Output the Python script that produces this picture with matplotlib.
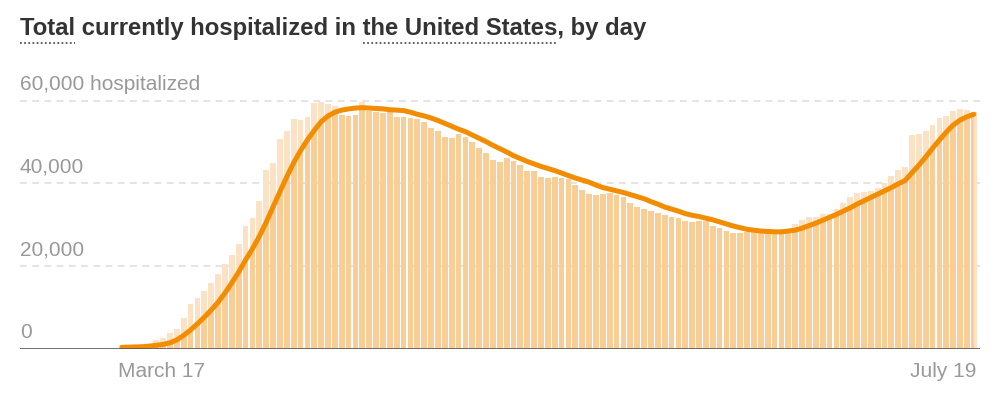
import numpy as np
import matplotlib
matplotlib.use('Agg')
import matplotlib.pyplot as plt
from matplotlib.patches import Polygon
from matplotlib.lines import Line2D

# daily values, in thousands, day 0 = March 17, last day = July 19
hospitalized = [
    0.3, 0.4, 0.6, 0.9, 1.2, 2.2, 2.7, 3.8, 4.9, 7.6,
    10.9, 12.2, 13.9, 15.9, 18.0, 20.5, 22.6, 25.3, 29.8, 31.6,
    35.8, 43.2, 45.0, 50.7, 52.6, 55.5, 55.3, 56.0, 59.4, 59.7,
    59.3, 58.7, 56.5, 56.4, 56.6, 59.6, 57.6, 57.3, 57.1, 57.2,
    56.0, 56.0, 55.8, 55.5, 54.9, 53.4, 52.7, 51.2, 51.0, 51.9,
    51.3, 50.1, 48.5, 47.4, 45.7, 45.1, 46.2, 45.4, 44.4, 43.1,
    43.1, 41.5, 41.4, 41.5, 41.4, 41.1, 39.5, 38.3, 37.4, 37.3,
    37.4, 37.8, 37.2, 36.6, 35.3, 34.4, 33.8, 33.3, 32.8, 32.4,
    32.0, 31.6, 31.0, 30.7, 31.0, 30.8, 29.8, 29.3, 28.5, 27.9,
    27.9, 28.3, 28.7, 28.6, 28.6, 27.8, 28.1, 28.5, 30.2, 31.2,
    32.0, 32.0, 32.6, 32.6, 33.7, 35.3, 36.6, 37.6, 37.9, 38.2,
    38.8, 40.0, 41.9, 43.2, 44.0, 51.7, 51.9, 52.7, 54.1, 55.7,
    56.3, 57.5, 57.9, 57.7, 57.3,
]
# 7-day average line (thousands)
average = [
    0.4, 0.45, 0.5, 0.55, 0.7, 0.9, 1.1, 1.5, 2.2, 3.3,
    4.6, 6.1, 7.7, 9.4, 11.3, 13.5, 16.0, 18.6, 21.5, 24.2,
    27.2, 30.6, 34.3, 38.0, 41.6, 45.0, 47.9, 50.5, 52.8, 54.9,
    56.3, 57.2, 57.7, 58.0, 58.2, 58.3, 58.2, 58.1, 58.0, 57.8,
    57.7, 57.6, 57.2, 56.7, 56.3, 55.8, 55.2, 54.5, 53.8, 53.1,
    52.5, 51.7, 50.9, 50.1, 49.2, 48.4, 47.6, 46.7, 46.0, 45.3,
    44.7, 44.1, 43.6, 43.1, 42.5, 41.9, 41.3, 40.8, 40.3, 39.6,
    39.0, 38.6, 38.2, 37.8, 37.3, 36.8, 36.3, 35.6, 35.0, 34.3,
    33.8, 33.3, 32.7, 32.3, 32.0, 31.6, 31.2, 30.7, 30.2, 29.7,
    29.3, 28.9, 28.7, 28.5, 28.4, 28.3, 28.3, 28.5, 28.7, 29.2,
    29.8, 30.4, 31.1, 31.8, 32.5, 33.3, 34.1, 35.0, 35.8, 36.6,
    37.4, 38.2, 39.0, 39.9, 40.7, 42.6, 44.4, 46.4, 48.5, 50.5,
    52.4, 54.1, 55.3, 56.1, 56.7,
]
y_ticks = [0, 20000, 40000, 60000]
y_labels = ['0', '20,000', '40,000', '60,000 hospitalized']
x_labels = ['March 17', 'July 19']

plt.rcParams['font.family'] = ['Liberation Sans', 'DejaVu Sans']

days = np.arange(len(hospitalized))
vals = np.array(hospitalized) * 1000
avg = np.array(average) * 1000

W, H = 994, 404
fig = plt.figure(figsize=(W / 100, H / 100), dpi=100)
# axes: pixels 20..980 horizontally, baseline at y=349
ax_top_px, ax_bot_px = 94.4, 349
ax = fig.add_axes([20 / W, (H - ax_bot_px) / H, 960 / W, (ax_bot_px - ax_top_px) / H])
ax.set_xlim(-14.83, 124.9)
ax.set_ylim(0, 61500)
ax.axis('off')

light = '#fce2c4'
dark = '#f9cd96'
orange = '#f28c00'

for v in y_ticks[1:]:
    ax.axhline(v, color='#dddddd', lw=1.1, dashes=(4.5, 3.5), zorder=0)

ax.bar(days, vals, width=0.84, color=light, zorder=1)
dark_bars = ax.bar(days, vals, width=0.84, color=dark, zorder=2)
under = Polygon(np.column_stack([np.r_[days[0], days, days[-1]],
                                 np.r_[0, avg, 0]]),
                closed=True, fill=False, edgecolor='none')
ax.add_patch(under)
for b in dark_bars:
    b.set_clip_path(under)

ax.plot(days, avg, color=orange, lw=3.6, solid_capstyle='round',
        solid_joinstyle='round', zorder=4)
ax.axhline(0, color='#555555', lw=1.9, zorder=5)

for v, lab in zip(y_ticks, y_labels):
    ax.annotate(lab, xy=(0, v), xycoords=('axes fraction', 'data'),
                xytext=(0, 7), textcoords='offset pixels',
                ha='left', va='bottom', fontsize=15, color='#999999')

ax.annotate(x_labels[0], xy=(-0.5, 0), xycoords='data', xytext=(0, -13),
            textcoords='offset pixels', ha='left', va='top',
            fontsize=15, color='#999999')
ax.annotate(x_labels[1], xy=(124.3, 0), xycoords='data', xytext=(0, -13),
            textcoords='offset pixels', ha='right', va='top',
            fontsize=15, color='#999999')

# title with dotted underlines under "Total" and "the United States"
parts = ['Total', ' currently hospitalized in ', 'the United States', ', by day']
title = ''.join(parts)
tx, ty = 20, H - 35
tkw = dict(fontsize=17.2, fontweight='bold', color='#333333')
fig.text(tx / W, ty / H, title, ha='left', va='baseline', **tkw)
fig.canvas.draw()
renderer = fig.canvas.get_renderer()


def width_of(s):
    t = fig.text(0, 0, s, **tkw)
    w = t.get_window_extent(renderer).width
    t.remove()
    return w


for k in (0, 2):
    x0 = tx + width_of(''.join(parts[:k])) if k else tx
    x1 = tx + width_of(''.join(parts[:k + 1]))
    yl = (ty - 8) / H
    fig.add_artist(Line2D([x0 / W, x1 / W], [yl, yl], transform=fig.transFigure,
                          color='#555555', lw=1.3, dashes=(1, 1.3)))

fig.savefig('out.png', dpi=100, facecolor='white')
